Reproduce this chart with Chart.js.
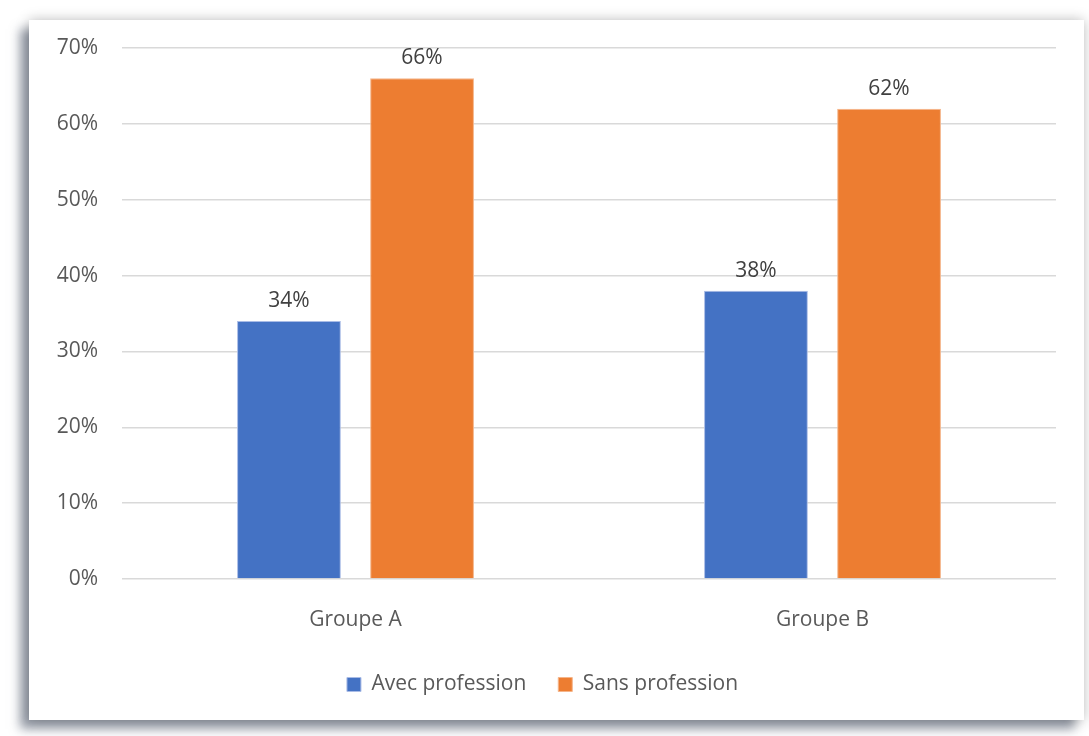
<!DOCTYPE html>
<html>
<head>
<meta charset="utf-8">
<script src="https://cdn.jsdelivr.net/npm/chart.js@4"></script>
<style>
  body { margin: 0; background: #ffffff; }
  #frame {
    position: absolute; left: 29px; top: 20px; width: 1055px; height: 700px;
    background: #fff;
    box-shadow: 0 0 12px rgba(0,0,0,0.25), -9px 9px 10px rgba(70,80,100,0.55);
  }
</style>
</head>
<body>
<div id="frame"><canvas id="chart" width="1055" height="700"></canvas></div>
<script>
var categories = ["Groupe A", "Groupe B"];
var avecProfession = [0.34, 0.38];
var sansProfession = [0.66, 0.62];
var seriesNames = ["Avec profession", "Sans profession"];

var FONT = "'Open Sans', sans-serif";

function pct(v) {
    return Math.round(v * 100) + "%";
}

// draws the value above each bar
var barLabels = {
    id: "barLabels",
    afterDatasetsDraw: function(chart) {
        var ctx = chart.ctx;
        ctx.save();
        ctx.font = "21px " + FONT;
        ctx.fillStyle = "#404040";
        ctx.textAlign = "center";
        ctx.textBaseline = "middle";
        chart.data.datasets.forEach(function(ds, i) {
            chart.getDatasetMeta(i).data.forEach(function(bar, j) {
                ctx.fillText(pct(ds.data[j]), bar.x, bar.y - 20);
            });
        });
        ctx.restore();
    }
};

new Chart(document.getElementById("chart").getContext("2d"), {
    type: "bar",
    data: {
        labels: categories,
        datasets: [
            {
                label: seriesNames[0],
                data: avecProfession,
                backgroundColor: "#4472c4",
                borderColor: "#a9bce6",
                borderWidth: 1,
                categoryPercentage: 0.57,
                barPercentage: 0.78
            },
            {
                label: seriesNames[1],
                data: sansProfession,
                backgroundColor: "#ed7d31",
                borderColor: "#f5b58a",
                borderWidth: 1,
                categoryPercentage: 0.57,
                barPercentage: 0.78
            }
        ]
    },
    options: {
        responsive: false,
        animation: false,
        layout: { padding: { left: 0, right: 28, top: 28, bottom: 15 } },
        scales: {
            x: {
                grid: { display: false },
                border: { display: false },
                ticks: { color: "#595959", font: { family: FONT, size: 21 }, padding: 20 },
                afterFit: function(scale) { scale.height = 63; }
            },
            y: {
                min: 0,
                max: 0.7,
                ticks: {
                    stepSize: 0.1,
                    color: "#595959",
                    font: { family: FONT, size: 21 },
                    padding: 24,
                    callback: function(v) { return pct(v); }
                },
                grid: { color: "#d9d9d9", lineWidth: 1.5, drawTicks: false },
                border: { display: false },
                afterFit: function(scale) {
                    scale.width = 93;
                    scale.paddingTop = 0;
                    scale.paddingBottom = 0;
                }
            }
        },
        plugins: {
            legend: {
                position: "bottom",
                labels: {
                    color: "#595959",
                    font: { family: FONT, size: 21 },
                    boxWidth: 14,
                    boxHeight: 14,
                    padding: 32
                }
            },
            tooltip: { enabled: false }
        }
    },
    plugins: [barLabels]
});
</script>
</body>
</html>
